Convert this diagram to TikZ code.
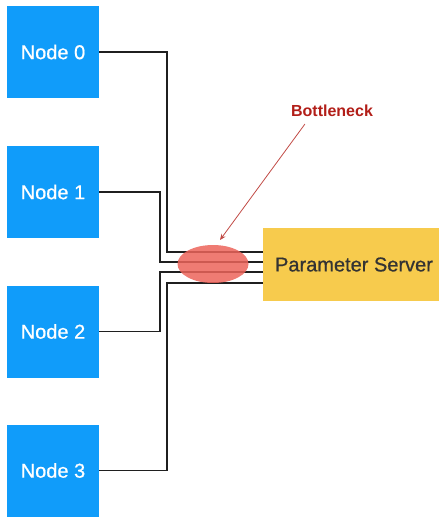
\documentclass[tikz,border=0pt]{standalone}
\usepackage{fontspec}
\setmainfont{Liberation Sans}
\newfontfamily\medsans[FakeBold=0.7]{Liberation Sans}
\usetikzlibrary{calc,shapes.geometric,arrows.meta}

\definecolor{nodeblue}{RGB}{16,156,250}
\definecolor{psyellow}{RGB}{247,203,77}
\definecolor{neckred}{RGB}{236,100,90}
\definecolor{labelred}{RGB}{178,30,24}

\tikzset{
  worker/.style={fill=nodeblue, minimum width=92pt, minimum height=92pt,
    inner sep=0pt, text=white, font=\medsans\fontsize{20}{24}\selectfont},
  link/.style={draw=black!88, line width=1.8pt}
}

\begin{document}
\begin{tikzpicture}[x=1pt, y=-1pt]
  \useasboundingbox (0,0) rectangle (439,517);

  \node[worker] (n0) at (53,52)    {Node 0};
  \node[worker] (n1) at (53,192)   {Node 1};
  \node[worker] (n2) at (53,331.5) {Node 2};
  \node[worker] (n3) at (53,470.5) {Node 3};

  \node[fill=psyellow, minimum width=182pt, minimum height=73pt, inner sep=0pt,
        text=black!80, font=\medsans\fontsize{20}{24}\selectfont] (ps) at (354,264.5) {Parameter Server};

  % bend points of the four links
  \coordinate (b0) at (167,252);
  \coordinate (b1) at (160,262);
  \coordinate (b2) at (160,272);
  \coordinate (b3) at (167,283);

  \draw[link] (n0.east) -| (b0) -- (b0 -| ps.west);
  \draw[link] (n1.east) -| (b1) -- (b1 -| ps.west);
  \draw[link] (n2.east) -| (b2) -- (b2 -| ps.west);
  \draw[link] (n3.east) -| (b3) -- (b3 -| ps.west);

  \node[ellipse, fill=neckred, fill opacity=0.85, minimum width=71pt, minimum height=38pt,
        inner sep=0pt] (neck) at (213,264) {};

  \node[text=labelred, font=\bfseries\fontsize{16}{19}\selectfont, inner sep=0pt] (bn) at (332,111) {Bottleneck};
  \coordinate (tip) at (220,240);
  \draw[draw=labelred!80, line width=0.8pt, -{Stealth[length=6pt,width=5pt]}]
    ($(bn.south west)+(14,7)$) -- (tip);
\end{tikzpicture}
\end{document}
